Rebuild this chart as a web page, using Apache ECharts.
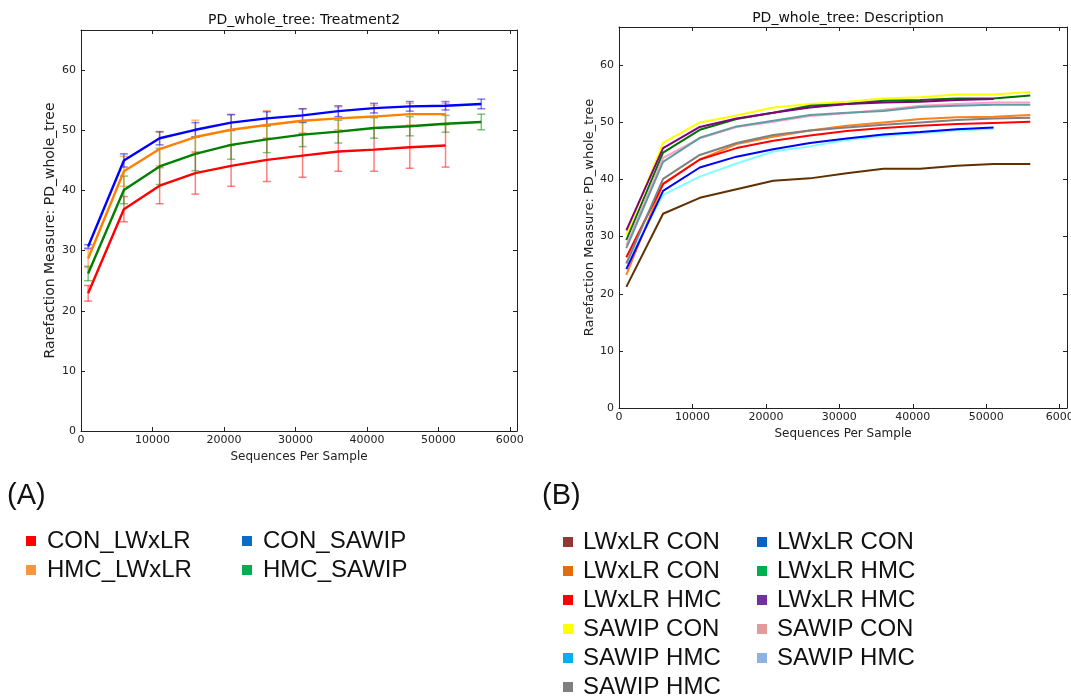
<!DOCTYPE html>
<html><head><meta charset="utf-8">
<script src="https://cdn.jsdelivr.net/npm/echarts@6/dist/echarts.min.js"></script>
<style>html,body{margin:0;padding:0;background:#fff}#c{width:1071px;height:699px}</style>
</head><body><div id="c"></div>
<script>
// ---------- data ----------
const depths = [1000, 6000, 11000, 16000, 21000, 26000, 31000, 36000, 41000, 46000, 51000, 56000];
const xTickLabels = { 0: '0', 10000: '10000', 20000: '20000', 30000: '30000', 40000: '40000', 50000: '50000', 60000: '6000' };
const yTickLabels = { 0: '0', 10: '10', 20: '20', 30: '30', 40: '40', 50: '50', 60: '60' };

// Panel A: PD_whole_tree: Treatment2 (mean and error)
const aBlue   = [30.7, 45.0, 48.7, 50.1, 51.3, 52.0, 52.5, 53.2, 53.7, 54.0, 54.1, 54.4];
const aBlueErr= [0.3, 1.1, 1.1, 1.2, 1.3, 1.1, 1.1, 0.9, 0.8, 0.8, 0.7, 0.8];
const aOrange = [28.7, 43.2, 46.9, 48.9, 50.1, 50.9, 51.6, 52.0, 52.3, 52.7, 52.7];
const aOrangeErr = [1.5, 2.5, 2.8, 2.8, 2.6, 2.4, 2.0, 1.9, 1.9, 1.8, 1.8];
const aGreen  = [26.2, 40.1, 44.0, 46.1, 47.6, 48.5, 49.3, 49.8, 50.4, 50.7, 51.1, 51.4];
const aGreenErr = [1.2, 2.3, 3.0, 2.8, 2.4, 2.2, 2.0, 1.9, 1.7, 1.6, 1.4, 1.3];
const aRed    = [22.9, 36.9, 40.8, 42.9, 44.1, 45.1, 45.8, 46.5, 46.8, 47.2, 47.5];
const aRedErr = [1.3, 2.1, 3.0, 3.5, 3.4, 3.6, 3.6, 3.3, 3.6, 3.5, 3.6];

// Panel B: PD_whole_tree: Description
const bBrown  = [21.2, 34.0, 36.8, 38.3, 39.8, 40.2, 41.1, 41.9, 41.9, 42.4, 42.7, 42.7];
const bOrange = [23.3, 39.3, 43.5, 46.2, 47.5, 48.6, 49.4, 50.0, 50.6, 50.9, 51.0, 51.3];
const bRed    = [26.4, 39.2, 43.5, 45.5, 46.8, 47.7, 48.5, 49.0, 49.4, 49.7, 49.9, 50.1];
const bYellow = [30.3, 46.4, 50.0, 51.2, 52.6, 53.2, 53.6, 54.2, 54.4, 54.9, 54.9, 55.3];
const bCyan   = [25.3, 37.3, 40.5, 42.8, 44.9, 45.8, 46.9, 47.6, 48.1, 48.6, 48.9];
const bGray   = [25.3, 40.1, 44.3, 46.4, 47.8, 48.6, 49.1, 49.6, 50.0, 50.4, 50.7, 50.8];
const bBlue   = [24.3, 38.0, 42.1, 44.0, 45.3, 46.4, 47.2, 47.9, 48.3, 48.8, 49.1];
const bGreen  = [29.4, 44.7, 48.7, 50.6, 51.7, 52.9, 53.2, 53.8, 53.9, 54.2, 54.2, 54.7];
const bPurple = [31.1, 45.5, 49.2, 50.7, 51.7, 52.6, 53.2, 53.5, 53.6, 53.9, 54.1];
const bPink   = [28.5, 43.8, 47.2, 49.2, 50.1, 51.1, 51.6, 52.2, 52.9, 53.2, 53.5, 53.5];
const bTeal   = [28.0, 43.1, 47.3, 49.3, 50.3, 51.3, 51.7, 52.0, 52.7, 52.9, 53.1, 53.1];

// Legends
const legendALabels = ['CON_LWxLR', 'HMC_LWxLR', 'CON_SAWIP', 'HMC_SAWIP'];
const legendAColors = ['#ff0000', '#f7963c', '#0a6cc4', '#00b050'];
const legendBLabels = ['LWxLR CON', 'LWxLR CON', 'LWxLR HMC', 'SAWIP CON', 'SAWIP HMC', 'SAWIP HMC',
                       'LWxLR CON', 'LWxLR HMC', 'LWxLR HMC', 'SAWIP CON', 'SAWIP HMC'];
const legendBColors = ['#943634', '#e46c0a', '#ff0000', '#ffff00', '#00b0f0', '#7f7f7f',
                       '#0563c1', '#00b050', '#7030a0', '#e39a9a', '#8db3e2'];

// ---------- chart ----------
const chart = echarts.init(document.getElementById('c'), null, { renderer: 'canvas' });
const FONT = 'DejaVu Sans';
const grids = [
  { left: 81, top: 30, width: 436, height: 401, outerBoundsMode: 'none', containLabel: false },
  { left: 619, top: 27, width: 448, height: 381, outerBoundsMode: 'none', containLabel: false }
];
const XMAX = 61000, YMAX = 66.7;
const lineC = '#222';

function xAxes(gi, nameGap) {
  const base = { type: 'value', gridIndex: gi, min: 0, max: XMAX, interval: 10000,
    splitLine: { show: false }, axisLine: { show: true, onZero: false, lineStyle: { color: lineC, width: 1 } },
    axisTick: { show: true, inside: true, length: 4, lineStyle: { color: lineC } } };
  return [
    Object.assign({}, base, { position: 'bottom', name: 'Sequences Per Sample', nameLocation: 'middle', nameGap: nameGap,
      nameTextStyle: { fontFamily: FONT, fontSize: 12, color: lineC },
      axisLabel: { show: true, margin: 4, fontFamily: FONT, fontSize: 11, color: lineC, showMaxLabel: false,
        formatter: v => (xTickLabels[v] !== undefined ? xTickLabels[v] : '') } }),
    Object.assign({}, base, { position: 'top', axisLabel: { show: false } })
  ];
}
function yAxes(gi, nameGap, nameSize) {
  const base = { type: 'value', gridIndex: gi, min: 0, max: YMAX, interval: 10,
    splitLine: { show: false }, axisLine: { show: true, onZero: false, lineStyle: { color: lineC, width: 1 } },
    axisTick: { show: true, inside: true, length: 4, lineStyle: { color: lineC } } };
  return [
    Object.assign({}, base, { position: 'left', name: 'Rarefaction Measure: PD_whole_tree', nameLocation: 'middle', nameGap: nameGap,
      nameTextStyle: { fontFamily: FONT, fontSize: nameSize, color: lineC },
      axisLabel: { show: true, margin: 5, fontFamily: FONT, fontSize: 11, color: lineC, showMaxLabel: false,
        formatter: v => (yTickLabels[v] !== undefined ? yTickLabels[v] : '') } }),
    Object.assign({}, base, { position: 'right', axisLabel: { show: false } })
  ];
}

function toPairs(vals) { return vals.map((v, i) => [depths[i], v]); }
function lineSeries(vals, color, gi, width, z) {
  return { type: 'line', xAxisIndex: gi * 2, yAxisIndex: gi * 2, data: toPairs(vals),
    showSymbol: false, symbol: 'none', lineStyle: { color: color, width: width }, itemStyle: { color: color },
    z: z, silent: true, animation: false };
}
function errSeries(vals, errs, color, gi) {
  return { type: 'custom', xAxisIndex: gi * 2, yAxisIndex: gi * 2, z: 1, silent: true, animation: false,
    data: vals.map((v, i) => [depths[i], v - errs[i], v + errs[i]]),
    renderItem: function (params, api) {
      const lo = api.coord([api.value(0), api.value(1)]);
      const hi = api.coord([api.value(0), api.value(2)]);
      const w = 4;
      const style = { stroke: color, lineWidth: 1.5, fill: null };
      return { type: 'group', children: [
        { type: 'line', shape: { x1: lo[0], y1: lo[1], x2: hi[0], y2: hi[1] }, style: style },
        { type: 'line', shape: { x1: lo[0] - w, y1: lo[1], x2: lo[0] + w, y2: lo[1] }, style: style },
        { type: 'line', shape: { x1: hi[0] - w, y1: hi[1], x2: hi[0] + w, y2: hi[1] }, style: style }
      ] };
    } };
}

const series = [
  errSeries(aRed, aRedErr, 'rgba(255,0,0,0.5)', 0),
  errSeries(aGreen, aGreenErr, 'rgba(0,140,0,0.5)', 0),
  errSeries(aOrange, aOrangeErr, 'rgba(255,128,0,0.55)', 0),
  errSeries(aBlue, aBlueErr, 'rgba(0,0,255,0.5)', 0),
  lineSeries(aRed, '#ff0000', 0, 2.4, 5),
  lineSeries(aGreen, '#008000', 0, 2.4, 6),
  lineSeries(aOrange, '#ff8000', 0, 2.4, 7),
  lineSeries(aBlue, '#0000ff', 0, 2.4, 8),

  lineSeries(bBrown, '#603000', 1, 2, 5),
  lineSeries(bOrange, '#ff7f1e', 1, 2, 6),
  lineSeries(bRed, '#ff0000', 1, 2, 7),
  lineSeries(bYellow, '#ffff00', 1, 2, 8),
  lineSeries(bCyan, '#80ffff', 1, 2, 9),
  lineSeries(bGray, '#808080', 1, 2, 10),
  lineSeries(bBlue, '#0000ff', 1, 2, 11),
  lineSeries(bGreen, '#007000', 1, 2, 12),
  lineSeries(bPurple, '#800080', 1, 2, 13),
  lineSeries(bPink, '#ff9ec8', 1, 2, 14),
  lineSeries(bTeal, '#5f9ea0', 1, 2, 15)
];

// legend graphics
const graphics = [];
const LFONT = '24px "Liberation Sans", Arial, sans-serif';
graphics.push({ type: 'text', left: 7, top: 481, style: { text: '(A)', font: '29px "Liberation Sans", Arial, sans-serif', fill: '#111' } });
graphics.push({ type: 'text', left: 542, top: 481, style: { text: '(B)', font: '29px "Liberation Sans", Arial, sans-serif', fill: '#111' } });
legendALabels.forEach((lab, i) => {
  const col = Math.floor(i / 2), row = i % 2;
  const mx = col === 0 ? 26 : 242, tx = col === 0 ? 47 : 263;
  const cy = 541 + row * 29;
  graphics.push({ type: 'rect', shape: { x: mx, y: cy - 5, width: 10, height: 10 }, style: { fill: legendAColors[i] } });
  graphics.push({ type: 'text', x: tx, y: cy, style: { text: lab, font: LFONT, fill: '#111', textVerticalAlign: 'middle', verticalAlign: 'middle' } });
});
legendBLabels.forEach((lab, i) => {
  const col = i < 6 ? 0 : 1, row = i < 6 ? i : i - 6;
  const mx = col === 0 ? 563 : 757, tx = col === 0 ? 583 : 777;
  const cy = 542 + row * 29;
  graphics.push({ type: 'rect', shape: { x: mx, y: cy - 5, width: 10, height: 10 }, style: { fill: legendBColors[i] } });
  graphics.push({ type: 'text', x: tx, y: cy, style: { text: lab, font: LFONT, fill: '#111', textVerticalAlign: 'middle', verticalAlign: 'middle' } });
});

chart.setOption({
  backgroundColor: '#fff',
  animation: false,
  title: [
    { text: 'PD_whole_tree: Treatment2', left: 299, top: 8, textAlign: 'center',
      textStyle: { fontFamily: FONT, fontSize: 14, fontWeight: 'normal', color: '#111' } },
    { text: 'PD_whole_tree: Description', left: 843, top: 6, textAlign: 'center',
      textStyle: { fontFamily: FONT, fontSize: 14, fontWeight: 'normal', color: '#111' } }
  ],
  grid: grids,
  xAxis: xAxes(0, 19).concat(xAxes(1, 17)),
  yAxis: yAxes(0, 24, 14).concat(yAxes(1, 22, 13)),
  series: series,
  graphic: graphics
});
</script></body></html>
